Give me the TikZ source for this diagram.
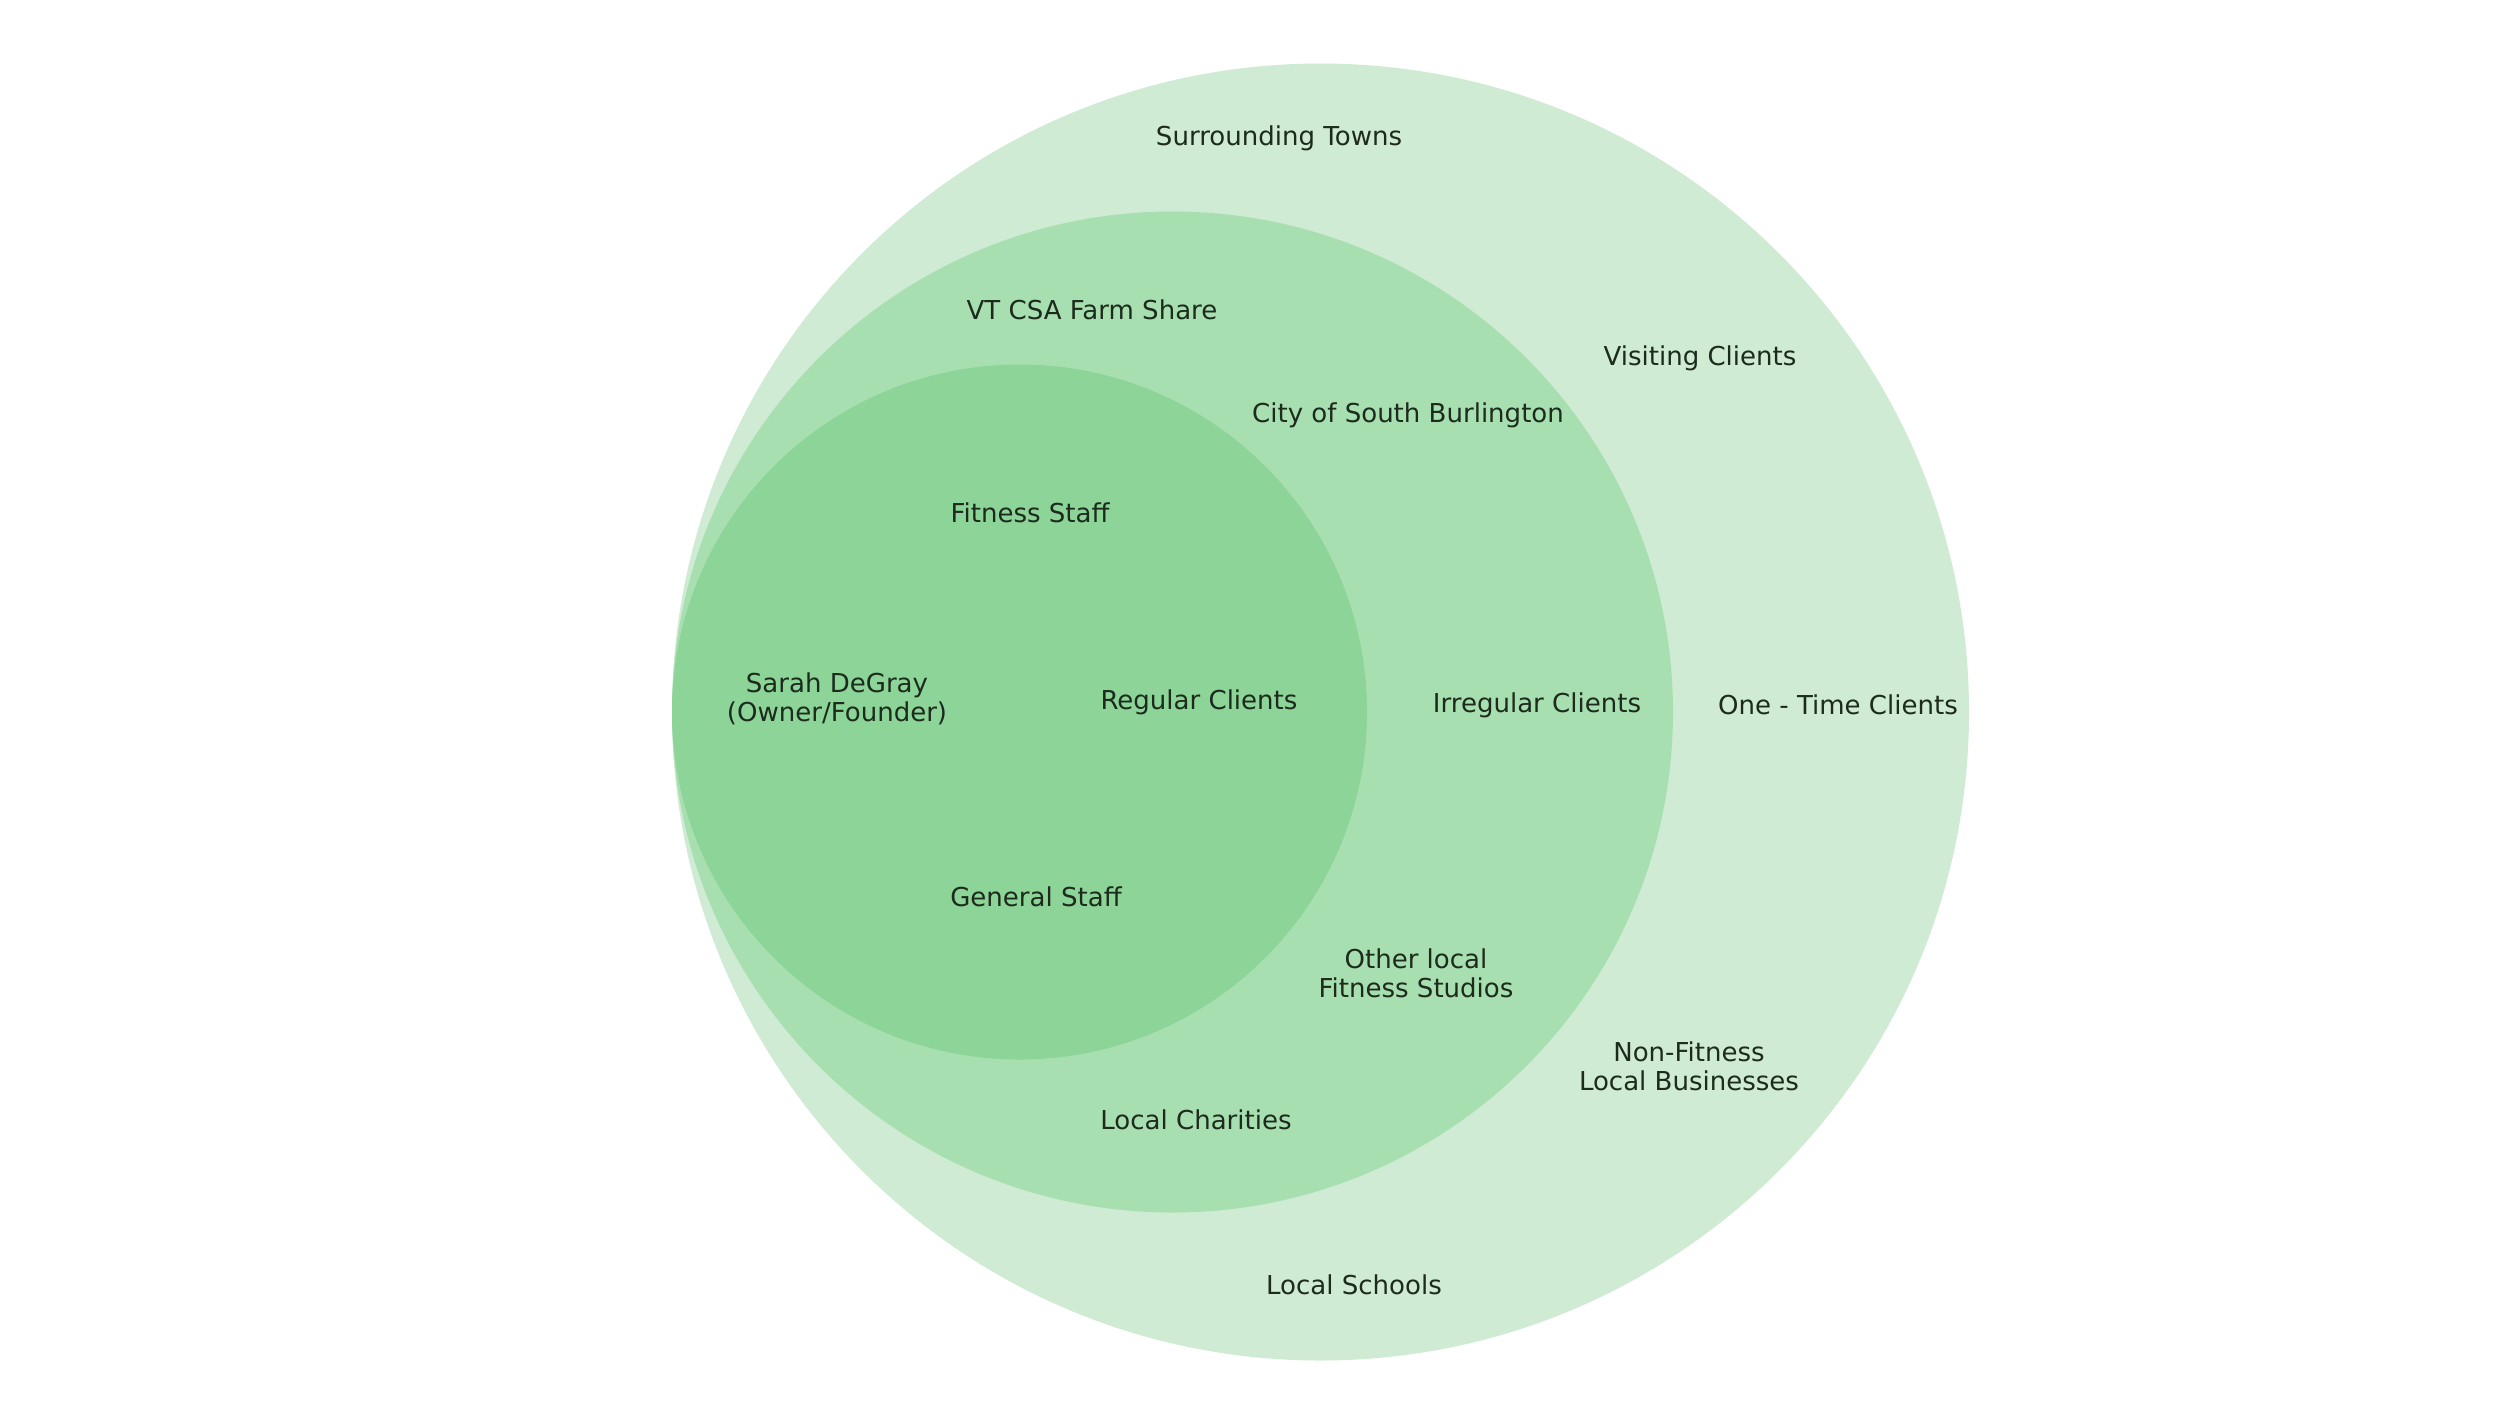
\documentclass[tikz,border=0pt]{standalone}
\usepackage{fontspec}
\setmainfont{DejaVu Sans}
\definecolor{ringA}{HTML}{D0EBD3}
\definecolor{ringB}{HTML}{A8DFB0}
\definecolor{ringC}{HTML}{8DD498}
\definecolor{ink}{HTML}{1C2B1C}
\tikzset{
  lbl/.style={text=ink, align=center, inner sep=0pt, font=\fontsize{7.4pt}{8.2pt}\selectfont},
}
\begin{document}
\begin{tikzpicture}[x=0.01cm,y=-0.01cm]
\useasboundingbox (0,0) rectangle (2500,1405);
\fill[ringA] (1320.5,712) circle[radius=648.5];
\fill[ringB] (1172.5,712) circle[radius=500.5];
\fill[ringC] (1019.5,712) circle[radius=347.5];
\node[lbl] (towns) at (1279,138) {Surrounding Towns};
\node[lbl] (csa) at (1092,310) {VT CSA Farm Share};
\node[lbl] (visit) at (1700,358) {Visiting Clients};
\node[lbl] (city) at (1408,415) {City of South Burlington};
\node[lbl] (fstaff) at (1030,513) {Fitness Staff};
\node[lbl] (sarah) at (837,699) {Sarah DeGray\\(Owner/Founder)};
\node[lbl] (reg) at (1199,702) {Regular Clients};
\node[lbl] (irreg) at (1537,705) {Irregular Clients};
\node[lbl] (onetime) at (1838,705) {One - Time Clients};
\node[lbl] (gstaff) at (1036,897) {General Staff};
\node[lbl] (studios) at (1416,973) {Other local\\Fitness Studios};
\node[lbl] (nonfit) at (1689,1066) {Non-Fitness\\Local Businesses};
\node[lbl] (charity) at (1196,1120) {Local Charities};
\node[lbl] (schools) at (1354,1285) {Local Schools};
\end{tikzpicture}
\end{document}
